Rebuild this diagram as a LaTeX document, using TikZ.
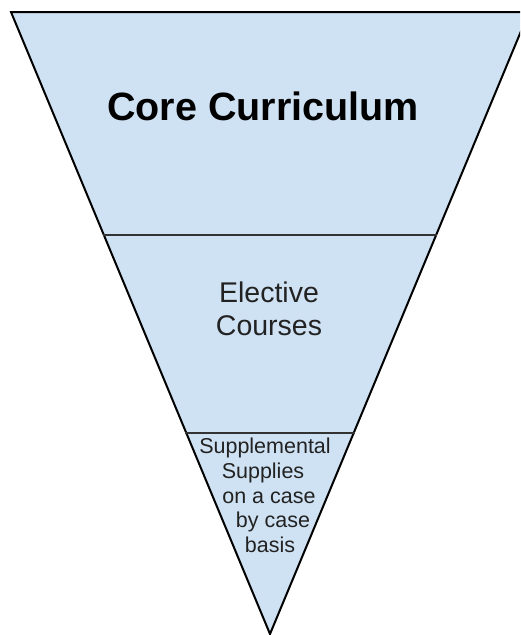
\documentclass[tikz,border=0pt]{standalone}
\usepackage{fontspec}
\setmainfont{Liberation Sans}
\definecolor{fillblue}{HTML}{CFE2F3}
\definecolor{txt}{HTML}{222222}
\begin{document}
\begin{tikzpicture}[x=1pt,y=-1pt,
  lbl/.style={anchor=base,inner sep=0pt,text=txt},
  edge/.style={draw=black,line width=2pt,line join=miter}]
\useasboundingbox (0,0) rectangle (520,635);
\clip (0,0) rectangle (520,635);
\coordinate (tl) at (11,12);
\coordinate (tr) at (529,12);
\coordinate (ap) at (270,634);
\coordinate (l1) at (102.7,235);
\coordinate (r1) at (437.3,235);
\coordinate (l2) at (185.3,433);
\coordinate (r2) at (354.7,433);
\fill[fillblue] (tl) -- (tr) -- (ap) -- cycle;
\draw[edge] (tl) -- (tr) -- (ap) -- cycle;
\draw[draw=black!80,line width=2pt] (l1) -- (r1);
\draw[draw=black!80,line width=2pt] (l2) -- (r2);
\node[lbl,font=\fontsize{39.5}{44}\selectfont\bfseries,text=black] (core) at (263,120) {Core Curriculum};
\node[lbl,font=\fontsize{28.5}{33}\selectfont] (el1) at (269,302) {Elective};
\node[lbl,font=\fontsize{28.5}{33}\selectfont] (el2) at (269,335) {Courses};
\node[lbl,font=\fontsize{21.5}{24}\selectfont] (s1) at (265,453) {Supplemental};
\node[lbl,font=\fontsize{21.5}{24}\selectfont] (s2) at (263,478) {Supplies};
\node[lbl,font=\fontsize{21.5}{24}\selectfont] (s3) at (269,503) {on a case};
\node[lbl,font=\fontsize{21.5}{24}\selectfont] (s4) at (273,527) {by case};
\node[lbl,font=\fontsize{21.5}{24}\selectfont] (s5) at (270,552) {basis};
\end{tikzpicture}
\end{document}
